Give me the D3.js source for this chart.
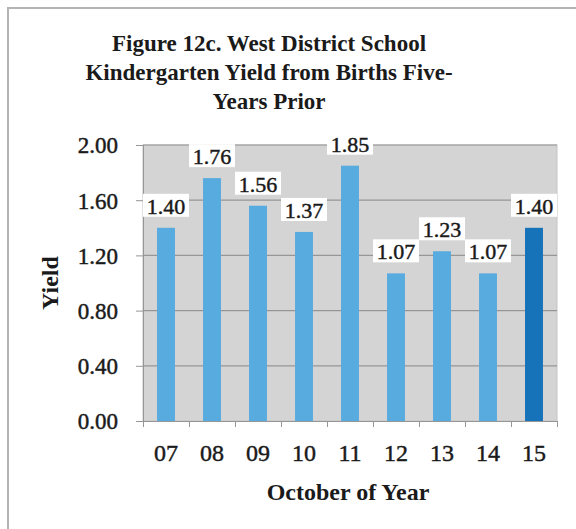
<!DOCTYPE html>
<html>
<head>
<meta charset="utf-8">
<script src="https://cdn.jsdelivr.net/npm/d3@7"></script>
<style>
  html, body { margin: 0; padding: 0; background: #fff; }
  svg { display: block; }
  text { font-family: "Liberation Serif", "Times New Roman", serif; fill: #1a1a1a; }
  .heavy { stroke: #1a1a1a; stroke-width: 0.45px; }
</style>
</head>
<body>
<svg id="chart" width="576" height="529"></svg>
<script>
// Kindergarten yield by October of each year
const years = ["07", "08", "09", "10", "11", "12", "13", "14", "15"];
const yieldValues = [1.40, 1.76, 1.56, 1.37, 1.85, 1.07, 1.23, 1.07, 1.40];
const yTicks = [0, 0.4, 0.8, 1.2, 1.6, 2.0];
const titleLines = [
  "Figure 12c. West District School",
  "Kindergarten Yield from Births Five-",
  "Years Prior"
];

const svg = d3.select("#chart");
const plot = { left: 143, right: 557, top: 145, bottom: 421 };

// outer chart frame
svg.append("rect")
  .attr("x", 8).attr("y", 8)
  .attr("width", 620).attr("height", 620)
  .attr("fill", "#fff")
  .attr("stroke", "#b4b4b4")
  .attr("stroke-width", 2);

// title
svg.append("g").selectAll("text")
  .data(titleLines)
  .join("text")
  .attr("x", 269)
  .attr("y", (d, i) => 51 + i * 29)
  .attr("text-anchor", "middle")
  .attr("font-size", 23)
  .attr("font-weight", "bold")
  .text(d => d);

const x = d3.scaleBand()
  .domain(years)
  .range([plot.left, plot.right])
  .paddingInner(0.61)
  .paddingOuter(0.305);

const y = d3.scaleLinear()
  .domain([0, 2])
  .range([plot.bottom, plot.top]);

// plot background
svg.append("rect")
  .attr("x", plot.left).attr("y", plot.top)
  .attr("width", plot.right - plot.left)
  .attr("height", plot.bottom - plot.top)
  .attr("fill", "#d4d4d4")
  .attr("stroke", "#c4c4c4");

// gridlines
svg.append("g")
  .selectAll("line")
  .data(yTicks.filter(v => v > 0))
  .join("line")
  .attr("x1", plot.left).attr("x2", plot.right)
  .attr("y1", d => y(d)).attr("y2", d => y(d))
  .attr("stroke", "#969696")
  .attr("stroke-width", 1.2);

// bars
svg.append("g")
  .selectAll("rect")
  .data(years.map((yr, i) => ({ yr, v: yieldValues[i], last: i === years.length - 1 })))
  .join("rect")
  .attr("x", d => x(d.yr))
  .attr("y", d => y(d.v))
  .attr("width", x.bandwidth())
  .attr("height", d => y(0) - y(d.v))
  .attr("fill", d => d.last ? "#1672b9" : "#58abdf");

// y axis
const yAxis = svg.append("g")
  .attr("transform", `translate(${plot.left},0)`)
  .call(d3.axisLeft(y).tickValues(yTicks).tickFormat(d3.format(".2f")).tickSize(7).tickPadding(18));
yAxis.select(".domain").attr("stroke", "#969696");
yAxis.selectAll(".tick line").attr("stroke", "#969696");
yAxis.selectAll("text")
  .attr("class", "heavy")
  .attr("font-size", 23)
  .attr("font-family", "Liberation Serif, serif")
  .attr("fill", "#1a1a1a")
  .attr("dy", "0.34em");

// x axis: tick marks at category boundaries
const xEdges = d3.scaleLinear().domain([0, years.length]).range([plot.left, plot.right]);
const xTickAxis = svg.append("g")
  .attr("transform", `translate(0,${plot.bottom})`)
  .call(d3.axisBottom(xEdges).tickValues(d3.range(0, years.length + 1)).tickFormat("").tickSize(6));
xTickAxis.select(".domain").attr("stroke", "#969696");
xTickAxis.selectAll(".tick line").attr("stroke", "#969696");

// x axis: category labels
const xAxis = svg.append("g")
  .attr("transform", `translate(0,${plot.bottom})`)
  .call(d3.axisBottom(x).tickSize(0).tickPadding(0));
xAxis.select(".domain").remove();
xAxis.selectAll("text")
  .attr("class", "heavy")
  .attr("font-size", 24)
  .attr("font-family", "Liberation Serif, serif")
  .attr("fill", "#1a1a1a")
  .attr("y", 40)
  .attr("dy", 0);

// value labels with white backing
const labels = svg.append("g")
  .selectAll("g")
  .data(years.map((yr, i) => ({ yr, v: yieldValues[i] })))
  .join("g")
  .attr("transform", d => `translate(${x(d.yr) + x.bandwidth() / 2},${y(d.v) - 22})`);
labels.append("rect")
  .attr("x", -23).attr("y", -12)
  .attr("width", 46).attr("height", 23)
  .attr("fill", "#fff");
labels.append("text")
  .attr("class", "heavy")
  .attr("text-anchor", "middle")
  .attr("y", 8)
  .attr("font-size", 22)
  .text(d => d.v.toFixed(2));

// axis titles
svg.append("text")
  .attr("transform", `translate(58,${(plot.top + plot.bottom) / 2}) rotate(-90)`)
  .attr("text-anchor", "middle")
  .attr("font-size", 24)
  .attr("font-weight", "bold")
  .text("Yield");

svg.append("text")
  .attr("x", (plot.left + plot.right) / 2 - 2)
  .attr("y", 500)
  .attr("text-anchor", "middle")
  .attr("font-size", 24)
  .attr("font-weight", "bold")
  .text("October of Year");
</script>
</body>
</html>
